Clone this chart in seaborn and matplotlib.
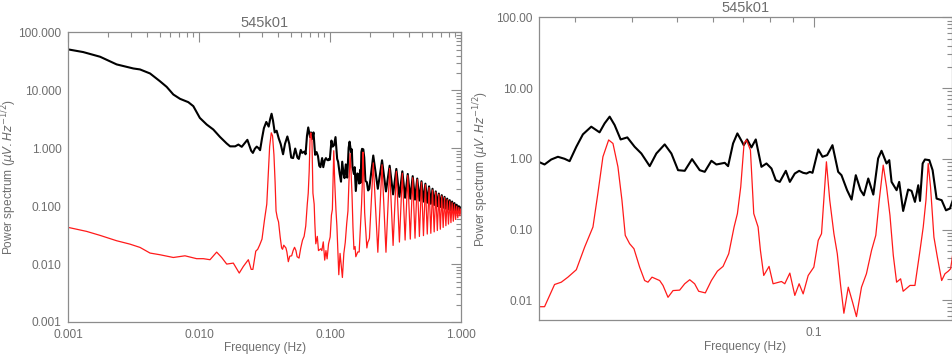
import numpy as np
import pandas as pd
import matplotlib
matplotlib.use("Agg")
import matplotlib.pyplot as plt
import seaborn as sns
from matplotlib.ticker import FuncFormatter, LogLocator, FixedLocator, NullFormatter

# ---------------- data ----------------
title = "545k01"
xlabel = "Frequency (Hz)"
ylabel = r"Power spectrum ($\mu V.Hz^{-1/2}$)"

# black curve: low-frequency part
black_freq_low = [0.001, 0.0013, 0.00175, 0.00234, 0.00314, 0.00353, 0.00421, 0.00501,
                  0.00564, 0.00634, 0.00713, 0.00825, 0.00901, 0.0101, 0.0114, 0.0128,
                  0.0144, 0.0162, 0.0172, 0.0188, 0.0199, 0.0211, 0.0233]
black_pow_low = [51.0, 45.9, 38.1, 28.1, 23.9, 23.0, 19.6, 14.4,
                 11.5, 8.49, 7.15, 6.26, 5.34, 3.35, 2.57, 2.11,
                 1.57, 1.21, 1.08, 1.08, 1.16, 1.06, 1.40]
# black curve: 0.025 - 0.2 Hz
black_freq_mid = [0.0249, 0.02567, 0.02655, 0.02746, 0.0284, 0.02913, 0.03013, 0.03115,
                  0.03249, 0.03388, 0.03475, 0.03565, 0.03655, 0.03768, 0.03897, 0.04044,
                  0.04183, 0.04363, 0.04512, 0.04706, 0.04867, 0.05034, 0.05206, 0.05402,
                  0.05615, 0.05759, 0.05956, 0.06108, 0.06371, 0.06479, 0.06644, 0.0679,
                  0.06952, 0.07012, 0.07131, 0.07289, 0.0745, 0.07666, 0.07863, 0.08064,
                  0.08241, 0.0841, 0.0867, 0.08847, 0.09072, 0.09272, 0.09462, 0.09623,
                  0.09786, 0.09919, 0.1021, 0.1043, 0.1068, 0.1097, 0.1129, 0.1148,
                  0.1181, 0.1208, 0.1234, 0.1264, 0.1285, 0.1314, 0.1348, 0.1381,
                  0.1405, 0.1441, 0.1461, 0.1478, 0.1516, 0.1536, 0.1567, 0.1607,
                  0.1635, 0.1663, 0.1691, 0.1706, 0.1729, 0.1749, 0.1788, 0.1818,
                  0.1855, 0.1903, 0.1945, 0.1984]
black_pow_mid = [0.908, 0.832, 0.979, 1.069, 1.001, 0.927, 1.48, 2.22,
                 2.85, 2.37, 3.17, 3.95, 3.01, 1.88, 2.01, 1.48,
                 1.19, 0.788, 1.19, 1.60, 1.19, 0.691, 0.677, 0.990,
                 0.691, 0.655, 0.938, 0.832, 0.878, 0.788, 1.65, 2.29,
                 1.74, 1.56, 1.88, 1.45, 1.88, 0.771, 0.860, 0.730,
                 0.499, 0.472, 0.677, 0.472, 0.620, 0.676, 0.634, 0.620,
                 0.655, 0.634, 1.358, 1.069, 1.128, 1.56, 0.655, 0.587,
                 0.360, 0.265, 0.587, 0.360, 0.305, 0.527, 0.312, 1.012,
                 1.30, 0.860, 0.958, 0.472, 0.360, 0.472, 0.183, 0.368,
                 0.352, 0.246, 0.423, 0.254, 0.860, 0.979, 0.958, 0.691,
                 0.274, 0.260, 0.187, 0.198]
# black curve: 0.2 - 1 Hz
black_freq_high = [0.213, 0.2308, 0.2485, 0.2663, 0.284, 0.3018, 0.3195, 0.3373, 0.355,
                   0.3728, 0.3905, 0.4083, 0.426, 0.4438, 0.4615, 0.4793, 0.497, 0.5148,
                   0.5325, 0.5503, 0.568, 0.5858, 0.6035, 0.6213, 0.639, 0.6568, 0.6745,
                   0.6923, 0.71, 0.7278, 0.7455, 0.7633, 0.781, 0.7988, 0.8165, 0.8343,
                   0.852, 0.8698, 0.8875, 0.9053, 0.923, 0.9408, 0.9585, 0.9763, 0.994, 1.0]
black_pow_high = [0.75, 0.20, 0.62, 0.18, 0.50, 0.16, 0.44, 0.145, 0.40,
                  0.14, 0.36, 0.135, 0.33, 0.13, 0.30, 0.125, 0.27, 0.12,
                  0.245, 0.115, 0.22, 0.11, 0.20, 0.105, 0.18, 0.10, 0.165,
                  0.097, 0.155, 0.094, 0.145, 0.091, 0.135, 0.088, 0.127, 0.085,
                  0.12, 0.083, 0.113, 0.081, 0.106, 0.079, 0.10, 0.077, 0.095, 0.09]

# red curve: low-frequency part
red_freq_low = [0.001, 0.00138, 0.00175, 0.00234, 0.00296, 0.00353, 0.00421, 0.00501,
                0.00634, 0.00778, 0.00955, 0.01074, 0.01208, 0.01358, 0.01483, 0.0162,
                0.0182, 0.0202, 0.0217, 0.0237]
red_pow_low = [0.0430, 0.0367, 0.0313, 0.0253, 0.0221, 0.0194, 0.0155, 0.0145,
               0.0130, 0.0139, 0.0124, 0.0124, 0.0119, 0.0161, 0.0130, 0.0100,
               0.0104, 0.0070, 0.0091, 0.0119]
# red curve: 0.025 - 0.2 Hz
red_freq_mid = [0.0249, 0.02567, 0.02633, 0.027, 0.02793, 0.02888, 0.03013, 0.03143,
                0.03277, 0.03359, 0.03446, 0.03547, 0.03625, 0.03717, 0.03793, 0.03857,
                0.03943, 0.0403, 0.04147, 0.04253, 0.04325, 0.04414, 0.04588, 0.04666,
                0.04785, 0.04908, 0.05075, 0.05206, 0.05339, 0.05473, 0.05585, 0.05776,
                0.05956, 0.06139, 0.06317, 0.065, 0.06678, 0.06791, 0.06906, 0.07023,
                0.07107, 0.07252, 0.07375, 0.07538, 0.07627, 0.07756, 0.07967, 0.0813,
                0.08481, 0.08625, 0.08847, 0.09072, 0.09272, 0.09462, 0.09705, 0.09986,
                0.1021, 0.1038, 0.105, 0.1064, 0.1082, 0.1105, 0.1124, 0.1143,
                0.1162, 0.1188, 0.1214, 0.1238, 0.127, 0.1302, 0.1336, 0.1365,
                0.1389, 0.1417, 0.1441, 0.1466, 0.1491, 0.1516, 0.1547, 0.1567,
                0.1622, 0.1663, 0.1706, 0.1734, 0.1758, 0.1778, 0.1799, 0.183,
                0.1862, 0.1903, 0.1935, 0.1968, 0.1991]
red_pow_mid = [0.0081, 0.0081, 0.0117, 0.0167, 0.0180, 0.0212, 0.0270, 0.0566,
               0.1086, 0.323, 1.069, 1.85, 1.65, 0.771, 0.260, 0.0827,
               0.0630, 0.0535, 0.0294, 0.0190, 0.0180, 0.0212, 0.0190, 0.0162,
               0.0110, 0.0137, 0.0139, 0.0171, 0.0195, 0.0171, 0.0134, 0.0127,
               0.0190, 0.0258, 0.0301, 0.0455, 0.1086, 0.168, 0.401, 1.65,
               1.85, 1.33, 0.168, 0.1086, 0.0507, 0.0224, 0.0301, 0.0171,
               0.0184, 0.0171, 0.0242, 0.0117, 0.0171, 0.0123, 0.0224, 0.0294,
               0.0703, 0.0873, 0.260, 0.908, 0.260, 0.0873, 0.0455, 0.0162,
               0.00655, 0.0153, 0.00938, 0.00587, 0.0153, 0.0237, 0.0507, 0.0827,
               0.260, 0.814, 0.401, 0.159, 0.0430, 0.0180, 0.0201, 0.0134,
               0.0162, 0.0162, 0.0507, 0.1086, 0.260, 0.860, 0.401, 0.0783,
               0.0407, 0.0190, 0.0237, 0.0258, 0.0279]
# red curve: 0.2 - 1 Hz
red_freq_high = [0.213, 0.2308, 0.2485, 0.2663, 0.284, 0.3018, 0.3195, 0.3373, 0.355,
                 0.3728, 0.3905, 0.4083, 0.426, 0.4438, 0.4615, 0.4793, 0.497, 0.5148,
                 0.5325, 0.5503, 0.568, 0.5858, 0.6035, 0.6213, 0.639, 0.6568, 0.6745,
                 0.6923, 0.71, 0.7278, 0.7455, 0.7633, 0.781, 0.7988, 0.8165, 0.8343,
                 0.852, 0.8698, 0.8875, 0.9053, 0.923, 0.9408, 0.9585, 0.9763, 0.994, 1.0]
red_pow_high = [0.56, 0.016, 0.52, 0.016, 0.45, 0.021, 0.40, 0.024, 0.37,
                0.026, 0.34, 0.027, 0.31, 0.028, 0.29, 0.030, 0.26, 0.031,
                0.235, 0.033, 0.21, 0.034, 0.19, 0.036, 0.175, 0.038, 0.16,
                0.040, 0.15, 0.043, 0.14, 0.046, 0.13, 0.049, 0.122, 0.052,
                0.115, 0.055, 0.108, 0.059, 0.10, 0.063, 0.095, 0.068, 0.09, 0.08]

left_yticks = [0.001, 0.01, 0.1, 1.0, 10.0, 100.0]
left_xticks = [0.001, 0.01, 0.1, 1.0]
right_yticks = [0.01, 0.1, 1.0, 10.0, 100.0]
right_xticks = [0.1]
right_xminor = [0.03, 0.04, 0.05, 0.06, 0.07, 0.08, 0.09]

black = pd.DataFrame({"freq": black_freq_low + black_freq_mid + black_freq_high,
                      "power": black_pow_low + black_pow_mid + black_pow_high})
red = pd.DataFrame({"freq": red_freq_low + red_freq_mid + red_freq_high,
                    "power": red_pow_low + red_pow_mid + red_pow_high})

# ---------------- style ----------------
sns.set_style("white")
plt.rcParams["font.family"] = ["Liberation Sans", "DejaVu Sans"]
plt.rcParams["mathtext.fontset"] = "dejavusans"
TXT = "#6e6e6e"
AX = "#8c8c8c"

fig = plt.figure(figsize=(9.52, 3.55), dpi=100)
axL = fig.add_axes([0.0717, 0.0930, 0.4128, 0.8155])
axR = fig.add_axes([0.5665, 0.0977, 0.4330, 0.8532])

for ax in (axL, axR):
    sns.lineplot(data=black, x="freq", y="power", ax=ax, color="black", lw=1.5,
                 estimator=None, sort=False)
    sns.lineplot(data=red, x="freq", y="power", ax=ax, color="#ff1a1a", lw=0.9,
                 estimator=None, sort=False)
    ax.set_xscale("log")
    ax.set_yscale("log")
    for s in ax.spines.values():
        s.set_color(AX)
        s.set_linewidth(0.9)
    ax.tick_params(which="both", direction="in", top=True, right=True,
                   colors=AX, labelcolor=TXT, labelsize=8.6, width=0.8)
    ax.tick_params(which="major", length=7, pad=5)
    ax.tick_params(which="minor", length=3.5)
    ax.set_title(title, color=TXT, fontsize=10.5, pad=4)
    ax.set_xlabel(xlabel, color=TXT, fontsize=8.6, labelpad=1)
    ax.set_ylabel(ylabel, color=TXT, fontsize=8.6)

# left panel
axL.set_xlim(0.001, 1.0)
axL.set_ylim(0.001, 100.0)
axL.xaxis.set_major_locator(FixedLocator(left_xticks))
axL.yaxis.set_major_locator(FixedLocator(left_yticks))
axL.xaxis.set_minor_locator(LogLocator(base=10, subs=np.arange(2, 10)))
axL.yaxis.set_minor_locator(LogLocator(base=10, subs=np.arange(2, 10)))
axL.xaxis.set_minor_formatter(NullFormatter())
axL.yaxis.set_minor_formatter(NullFormatter())
axL.xaxis.set_major_formatter(FuncFormatter(lambda v, p: f"{v:.3f}"))
axL.yaxis.set_major_formatter(FuncFormatter(lambda v, p: f"{v:.3f}"))
axL.yaxis.set_label_coords(-0.126, 0.5)

# right panel
axR.set_xlim(0.025, 0.2)
axR.set_ylim(0.0052, 100.0)
axR.xaxis.set_major_locator(FixedLocator(right_xticks))
axR.xaxis.set_minor_locator(FixedLocator(right_xminor))
axR.yaxis.set_major_locator(FixedLocator(right_yticks))
axR.yaxis.set_minor_locator(LogLocator(base=10, subs=np.arange(2, 10)))
axR.xaxis.set_minor_formatter(NullFormatter())
axR.yaxis.set_minor_formatter(NullFormatter())
axR.xaxis.set_major_formatter(FuncFormatter(lambda v, p: f"{v:.1f}"))
axR.yaxis.set_major_formatter(FuncFormatter(lambda v, p: f"{v:.2f}"))
axR.yaxis.set_label_coords(-0.118, 0.5)

fig.savefig("out.png", dpi=100)
